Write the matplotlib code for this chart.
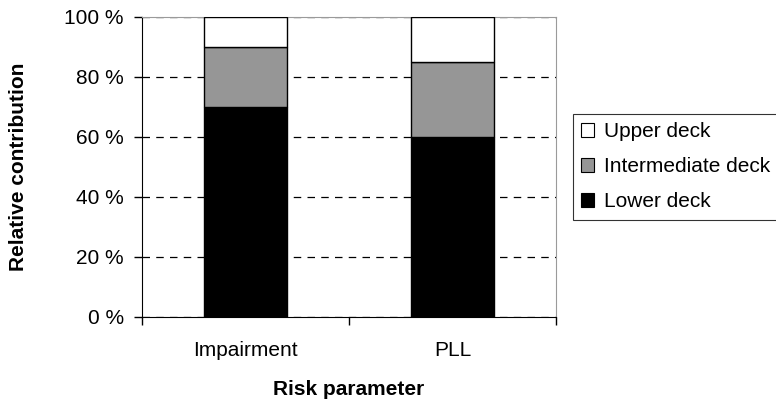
import matplotlib
matplotlib.use("Agg")
import matplotlib.pyplot as plt
from matplotlib.patches import Patch

plt.rcParams['font.family'] = ['Liberation Sans', 'DejaVu Sans']

categories = ["Impairment", "PLL"]
lower_deck = [70, 60]
intermediate_deck = [20, 25]
upper_deck = [10, 15]
y_ticks = [0, 20, 40, 60, 80, 100]
y_tick_labels = ["0 %", "20 %", "40 %", "60 %", "80 %", "100 %"]

FS = 15

fig = plt.figure(figsize=(7.76, 4.03), dpi=100)
ax = fig.add_axes([142 / 776, 86 / 403, 414 / 776, 300 / 403])

x = range(len(categories))
width = 0.405
ax.bar(x, lower_deck, width, color="black", edgecolor="black", linewidth=1, zorder=3)
ax.bar(x, intermediate_deck, width, bottom=lower_deck, color="#969696",
       edgecolor="black", linewidth=1, zorder=3)
bottom_upper = [a + b for a, b in zip(lower_deck, intermediate_deck)]
ax.bar(x, upper_deck, width, bottom=bottom_upper, color="white",
       edgecolor="black", linewidth=1, zorder=3)

ax.set_xlim(-0.5, len(categories) - 0.5)
ax.set_ylim(0, 100)
ax.set_yticks(y_ticks)
ax.set_yticklabels(y_tick_labels, fontsize=FS)

# category boundary ticks, labels centred under each bar
ax.set_xticks([i - 0.5 for i in range(len(categories) + 1)])
ax.set_xticklabels([])
ax.set_xticks(list(x), minor=True)
ax.set_xticklabels(categories, minor=True, fontsize=FS)
ax.tick_params(axis="x", which="minor", length=0, pad=17)
ax.tick_params(axis="x", which="major", direction="out", length=6, width=1)
ax.tick_params(axis="y", direction="out", length=6, width=1, pad=7)

ax.yaxis.grid(True, linestyle=(0, (6, 5)), color="black", linewidth=0.9, zorder=1)
ax.set_axisbelow(True)

for side in ["top", "right"]:
    ax.spines[side].set_color("#9a9a9a")
for side in ["left", "bottom"]:
    ax.spines[side].set_color("black")

ax.set_ylabel("Relative contribution", fontsize=FS, fontweight="bold", labelpad=26)
ax.set_xlabel("Risk parameter", fontsize=FS, fontweight="bold", labelpad=15)

handles = [
    Patch(facecolor="white", edgecolor="black", linewidth=0.8, label="Upper deck"),
    Patch(facecolor="#969696", edgecolor="black", linewidth=0.8, label="Intermediate deck"),
    Patch(facecolor="black", edgecolor="black", linewidth=0.8, label="Lower deck"),
]
leg = fig.legend(handles=handles, loc="upper left", bbox_to_anchor=(573 / 776, 1 - 114 / 403),
                 frameon=True, fancybox=False, edgecolor="black", fontsize=FS,
                 handlelength=0.6, handleheight=0.6, handletextpad=0.5,
                 labelspacing=0.77, borderpad=0.4, borderaxespad=0)
leg.get_frame().set_linewidth(0.8)

fig.savefig("out.png", dpi=100, facecolor="white")
